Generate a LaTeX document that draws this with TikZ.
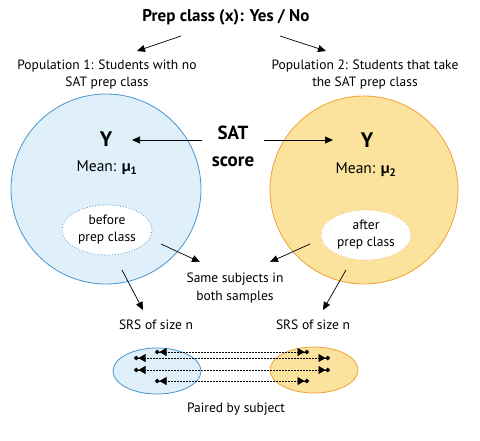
\documentclass[tikz,border=0pt]{standalone}
\usepackage{fontspec}
\setmainfont{PT Sans}
\usetikzlibrary{arrows.meta,shapes.geometric}

\definecolor{popblue}{HTML}{DFF0FB}
\definecolor{popblueline}{HTML}{4A93CB}
\definecolor{popgold}{HTML}{FBE39D}
\definecolor{popgoldline}{HTML}{F4A033}

\tikzset{
  lbl/.style={font=\fontsize{13.5}{17}\selectfont, align=center, inner sep=0pt},
  arr/.style={-{Triangle[length=8pt,width=7pt]}, line width=0.7pt},
  popcirc/.style={circle, minimum size=#1, inner sep=0pt, line width=0.8pt},
  subgrp/.style={ellipse, fill=white, minimum width=90pt, minimum height=50pt,
    inner sep=0pt, dotted, line width=0.8pt},
  sampell/.style={ellipse, minimum width=88pt, minimum height=46pt, line width=0.8pt},
  pairln/.style={dash pattern=on 2pt off 1pt, line width=0.7pt,
    {Circle[length=4.5pt,sep=2pt]Triangle[length=7pt,width=8pt]}-{Triangle[length=7pt,width=8pt]Circle[length=4.5pt,sep=2pt]}}
}

\begin{document}
\begin{tikzpicture}[x=1pt,y=-1pt]
  \useasboundingbox (0,0) rectangle (480,440);
  % the two populations
  \node[popcirc=190pt, fill=popblue, draw=popblueline] (circ1) at (106,189) {};
  \node[popcirc=188pt, fill=popgold, draw=popgoldline] (circ2) at (364,190) {};
  % explanatory variable and population labels
  \node[lbl, font=\bfseries\fontsize{17}{19}\selectfont] (title) at (226,17) {Prep class (x): Yes / No};
  \node[lbl] (pop1) at (107,75) {Population 1: Students with no\\SAT prep class};
  \node[lbl] (pop2) at (365,75) {Population 2: Students that take\\the SAT prep class};
  \draw[arr] ([shift={(-45,19)}]title.center) -- ([shift={(30,-24)}]pop1.center);
  \draw[arr] ([shift={(54,19)}]title.center) -- ([shift={(-39,-24)}]pop2.center);
  % response variable inside each population
  \node[lbl, font=\bfseries\fontsize{21}{24}\selectfont] (y1) at (106,139) {Y};
  \node[lbl, font=\bfseries\fontsize{21}{24}\selectfont] (y2) at (367,140) {Y};
  \node[lbl, font=\fontsize{15.5}{17}\selectfont] (mean1) at (107,168) {Mean: \textbf{µ}\textsubscript{\textbf{1}}};
  \node[lbl, font=\fontsize{15.5}{17}\selectfont] (mean2) at (366,170) {Mean: \textbf{µ}\textsubscript{\textbf{2}}};
  \node[lbl, font=\bfseries\fontsize{19}{27}\selectfont] (sat) at (233,146) {SAT\\score};
  \draw[arr] ([shift={(-31,-6)}]sat.center) -- ([shift={(26,1)}]y1.center);
  \draw[arr] ([shift={(31,-6)}]sat.center) -- ([shift={(-34,0)}]y2.center);
  % before / after groups
  \node[subgrp, draw=popblueline] (before) at (107,230) {};
  \node[lbl] at (before) {before\\prep class};
  \node[subgrp, draw=popgoldline!70] (after) at (366,235) {};
  \node[lbl] at (after) {after\\prep class};
  \node[lbl, font=\fontsize{13.5}{18}\selectfont] (same) at (235,288) {Same subjects in\\both samples};
  \draw[arr] ([shift={(54,14)}]before.center) -- ([shift={(-35,-26)}]same.center);
  \draw[arr] ([shift={(-56,9)}]after.center) -- ([shift={(35,-26)}]same.center);
  % samples
  \node[lbl] (srs1) at (156,325) {SRS of size n};
  \node[lbl] (srs2) at (313,325) {SRS of size n};
  \draw[arr] ([shift={(16,81)}]circ1.center) -- ([shift={(-13,-15)}]srs1.center);
  \draw[arr] ([shift={(-18,80)}]circ2.center) -- ([shift={(10,-15)}]srs2.center);
  \node[sampell, fill=popblue, draw=popblueline] (samp1) at (157,371) {};
  \node[sampell, fill=popgold, draw=popgoldline] (samp2) at (314,370) {};
  % pairs of subjects
  \foreach \dy/\lx/\rx in {-19/-4/-3, -13/-25/18, -1/-25/18, 10/-4/-3}
    \draw[pairln] ([shift={(\lx,\dy)}]samp1.center) -- ([shift={(\rx,\dy+1)}]samp2.center);
  \node[lbl] (paired) at (236,409) {Paired by subject};
\end{tikzpicture}
\end{document}
